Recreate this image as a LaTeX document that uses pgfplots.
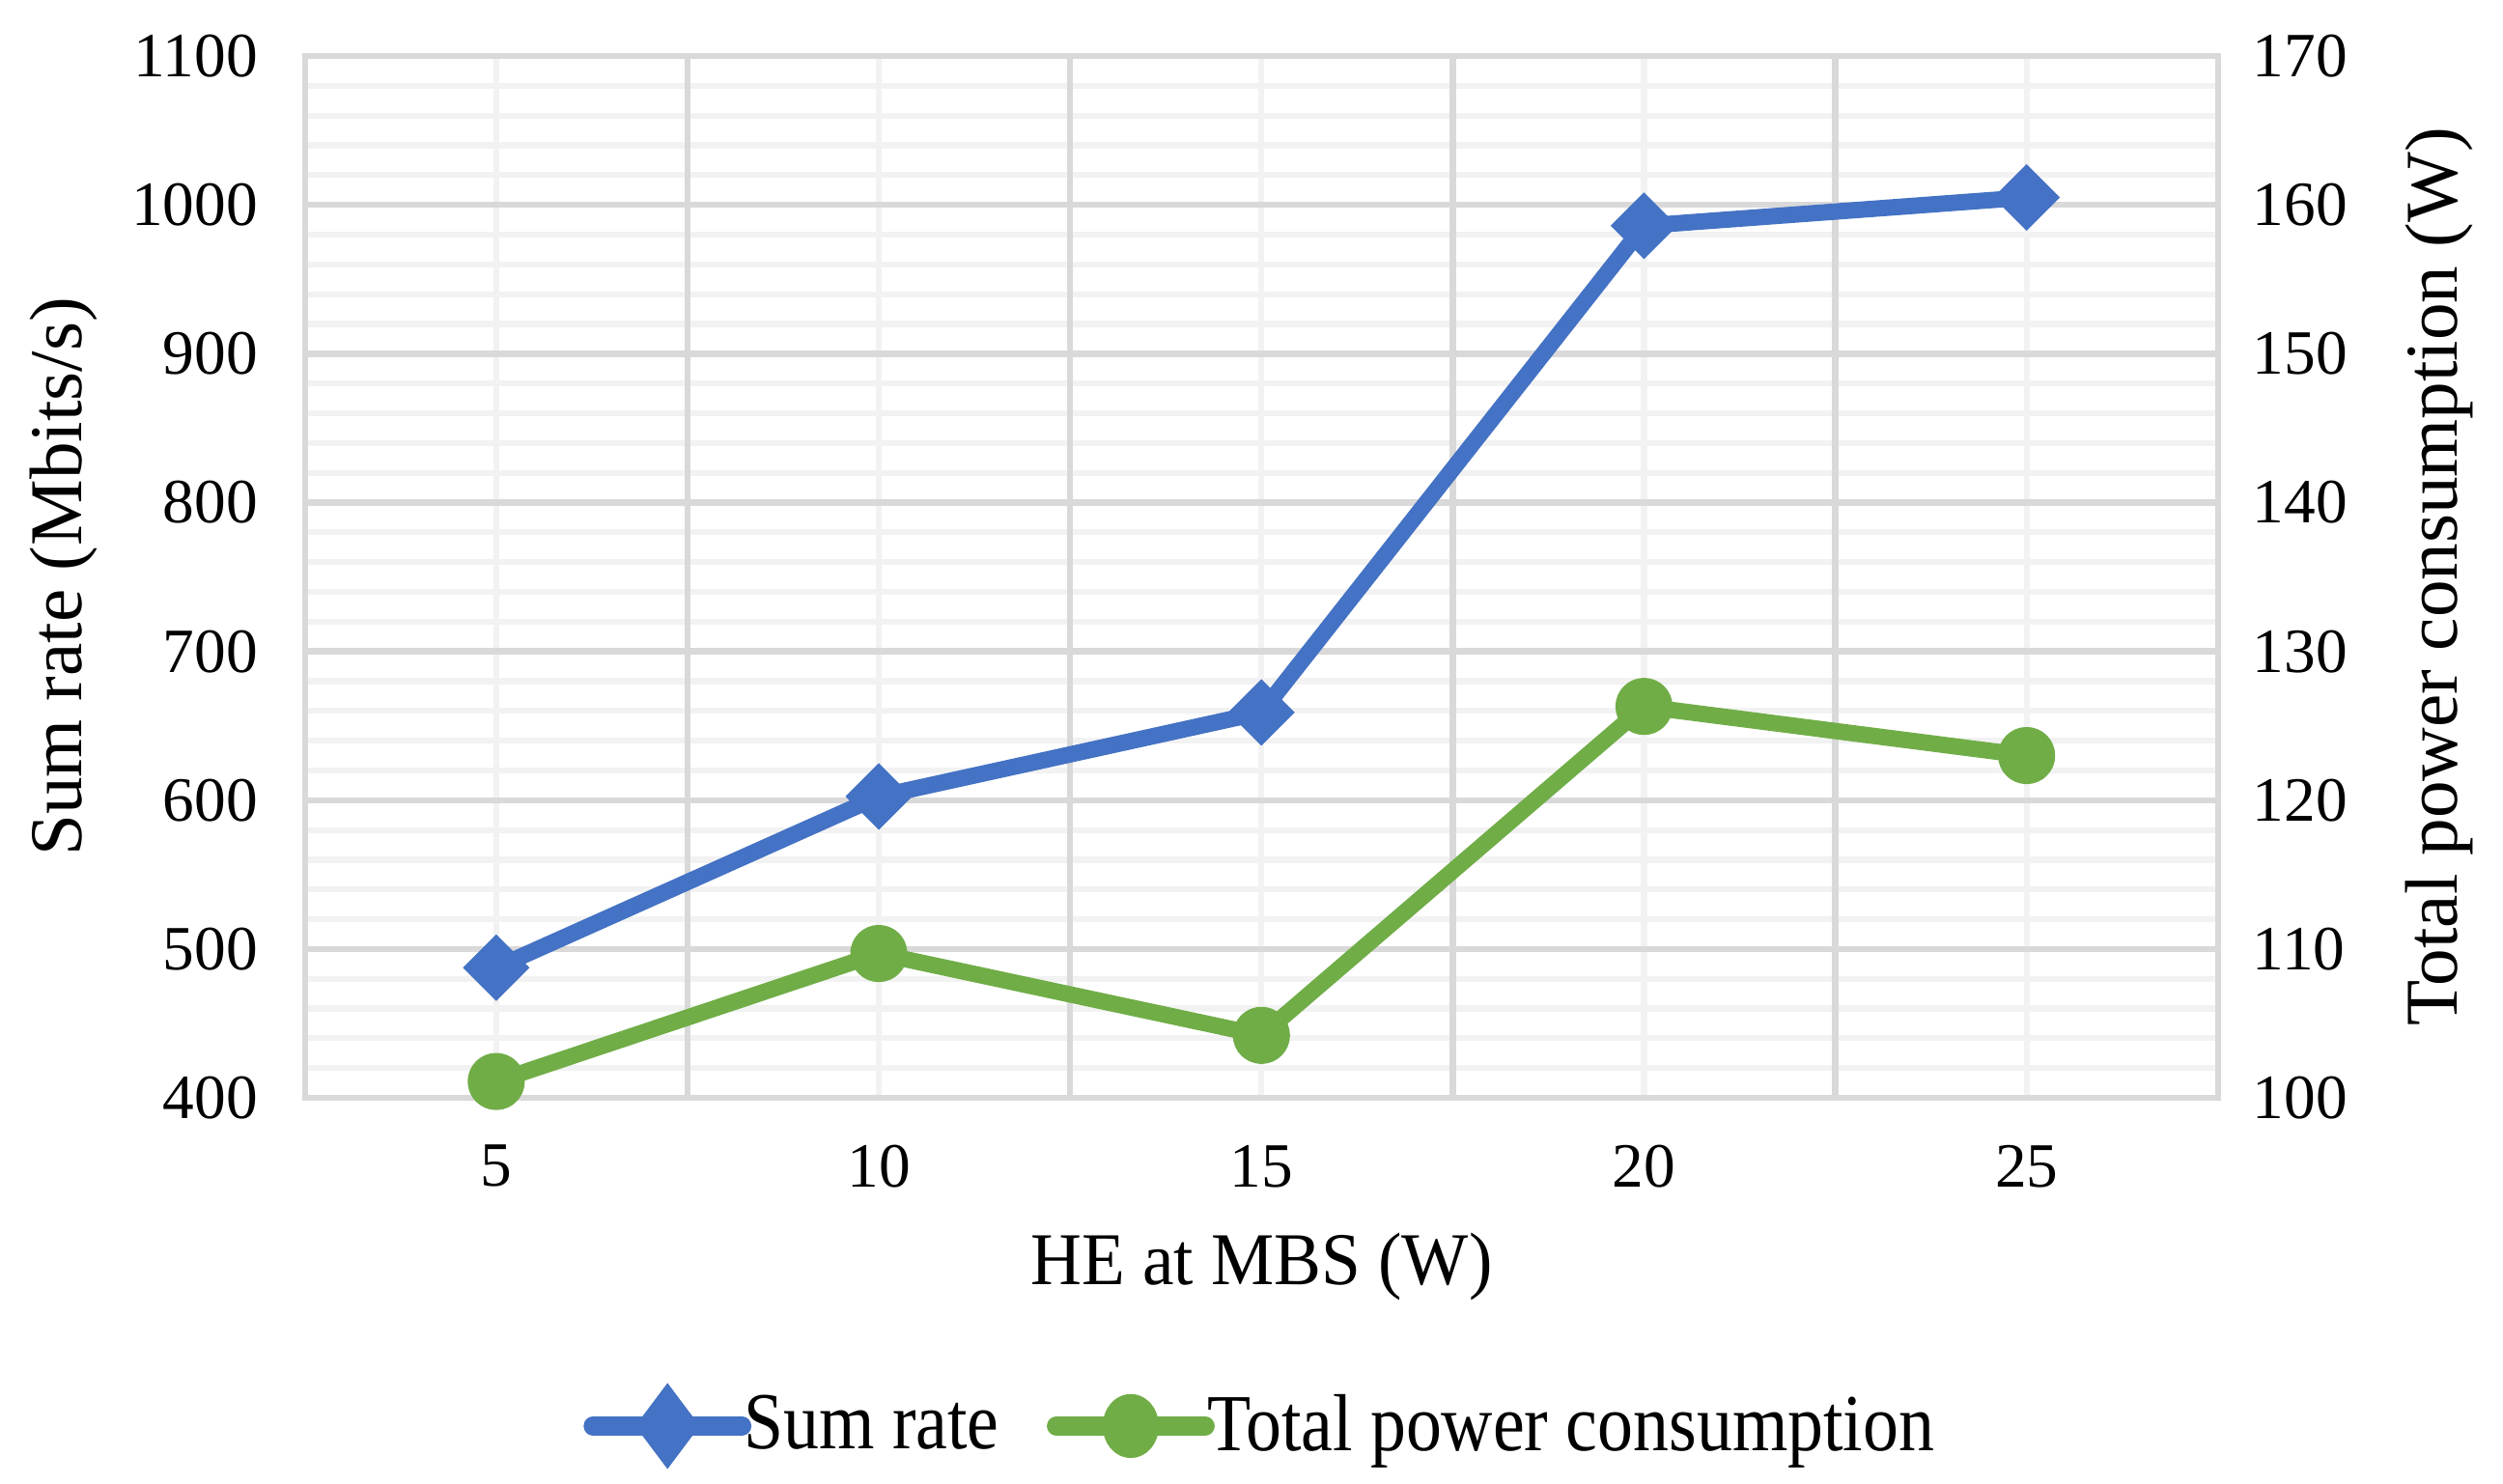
\documentclass[border=0pt]{standalone}
\usepackage{fontspec}
\setmainfont{Liberation Serif}
\newfontfamily\xlabfont[FakeStretch=0.95]{Liberation Serif}
\newfontfamily\legfont[FakeStretch=0.88]{Liberation Serif}
\usepackage{pgfplots}
\pgfplotsset{compat=1.18}

\definecolor{srblue}{HTML}{4472C4}
\definecolor{pwgreen}{HTML}{70AD47}
\definecolor{gridmaj}{HTML}{D9D9D9}
\definecolor{gridmin}{HTML}{F2F2F2}

\pgfplotsset{
  common/.style={
    scale only axis,
    width=385.2pt, height=209.8pt,
    xmin=0.5, xmax=5.5,
    major tick length=0pt, minor tick length=0pt,
    /pgf/number format/assume math mode=true,
    /pgf/number format/1000 sep={},
    tick label style={font=\fontsize{12.7}{14}\selectfont},
    label style={font=\fontsize{15}{18}\selectfont},
  },
  legline/.style={
    legend image code/.code={
      \draw[##1, line width=3.8pt, line cap=round, mark repeat=2, mark phase=2]
        plot coordinates {(0pt,0pt) (15pt,0pt) (30pt,0pt)};
    }
  }
}

\begin{document}
\begin{tikzpicture}
\useasboundingbox (-61.4pt,-77.6pt) rectangle (442.6pt,221.1pt);

% left axis: sum rate, carries all grid lines
\begin{axis}[
  common,
  ymin=400, ymax=1100,
  ytick={400,500,...,1100},
  minor y tick num=4,
  xtick={1,2,3,4,5},
  xticklabels={5,10,15,20,25},
  minor xtick={1,2,3,4,5},
  extra x ticks={1.5,2.5,3.5,4.5},
  extra x tick labels={},
  extra x tick style={grid=major},
  ymajorgrids, yminorgrids, xminorgrids,
  major grid style={draw=gridmaj, line width=1.25pt},
  minor grid style={draw=gridmin, line width=1.2pt},
  axis line style={draw=gridmaj, line width=1.25pt},
  yticklabel style={xshift=-6pt},
  xticklabel style={yshift=-6pt},
  xlabel={HE at MBS (W)},
  ylabel={Sum rate (Mbits/s)},
  xlabel style={at={(axis description cs:0.5,-0.162)}, anchor=center,
    font=\xlabfont\fontsize{15}{18}\selectfont},
  ylabel style={at={(axis description cs:-0.1262,0.5)}, anchor=center},
]
\addplot[srblue, line width=3.3pt, line join=round, mark=square*, mark size=3.1pt,
  mark options={rotate=45, line join=miter}]
  coordinates {(1,487.5) (2,602.5) (3,659) (4,986) (5,1005)};
\end{axis}

% right axis: total power consumption
\begin{axis}[
  common,
  axis y line*=right,
  axis x line=none,
  ymin=100, ymax=170,
  ytick={100,110,...,170},
  yticklabel style={xshift=3.5pt},
  ylabel={Total power consumption (W)},
  ylabel style={at={(axis description cs:1.1156,0.5)}, anchor=center},
  y axis line style={draw=gridmaj, line width=1.25pt},
  legend columns=2,
  legend style={
    at={(axis description cs:0.5,-0.315)}, anchor=center,
    draw=none, fill=none,
    font=\legfont\fontsize{16.3}{19}\selectfont,
    nodes={inner xsep=1pt},
    /tikz/every odd column/.append style={column sep=-2.5pt},
    /tikz/every even column/.append style={column sep=8.6pt},
    inner sep=0pt,
  },
  legend cell align=left,
]
\addlegendimage{legline, srblue, mark=diamond*, mark size=5.5pt}
\addlegendentry{Sum rate}
\addplot[pwgreen, line width=3.3pt, line join=round, mark=*, mark size=4.1pt,
  legend image code/.code={
    \draw[pwgreen, line width=3.8pt, line cap=round]
      (0pt,0pt) -- (30pt,0pt);
    \fill[pwgreen] (15pt,0pt) ellipse [x radius=4pt, y radius=4.8pt];
  }]
  coordinates {(1,101.1) (2,109.7) (3,104.2) (4,126.3) (5,123.0)};
\addlegendentry{Total power consumption}
\end{axis}
\end{tikzpicture}
\end{document}
